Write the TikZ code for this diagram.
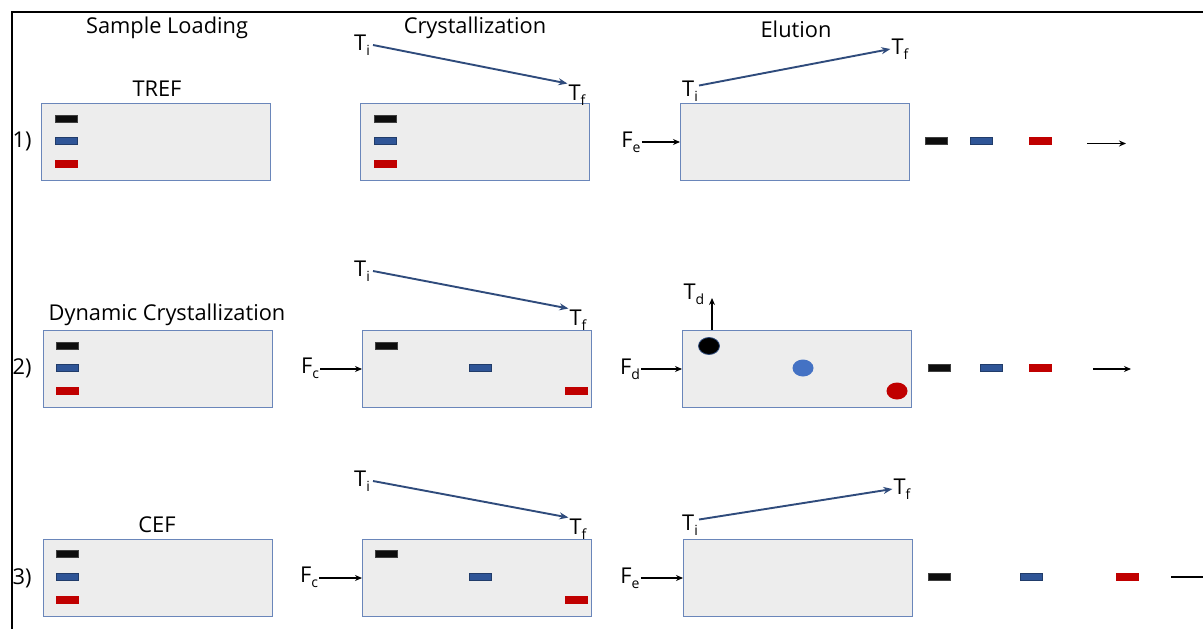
\documentclass[tikz,border=0pt]{standalone}
\usepackage{fontspec}
\setmainfont{Open Sans}
\usetikzlibrary{arrows.meta,shapes.geometric}
\definecolor{boxfill}{HTML}{EDEDED}
\definecolor{boxline}{HTML}{6A86BA}
\definecolor{barblack}{HTML}{0D0D0D}
\definecolor{barblue}{HTML}{2F5597}
\definecolor{barred}{HTML}{C00000}
\definecolor{templine}{HTML}{2F4B7C}
\definecolor{dotblue}{HTML}{4472C4}
\newcommand\lowsub[1]{\raisebox{-5pt}{\fontsize{14}{14}\selectfont #1}}
\tikzset{
  lbl/.style={font=\fontsize{21.8}{26}\selectfont, inner sep=1pt, text=black},
  colbox/.style={draw=boxline, fill=boxfill, line width=1pt, minimum width=229pt,
    minimum height=77pt, anchor=north west, inner sep=0pt},
  bar/.style={minimum width=22pt, minimum height=7pt, inner sep=0pt, line width=0.6pt},
  blackbar/.style={bar, fill=barblack, draw=black!75},
  bluebar/.style={bar, fill=barblue, draw=barblue!70!black},
  redbar/.style={bar, fill=barred, draw=barred},
  temp/.style={draw=templine, line width=1.9pt, -{Stealth[length=9pt,width=7pt]}},
  flow/.style={draw=black, line width=1.3pt, -{Stealth[length=7pt,width=6pt]}},
  blob/.style={ellipse, inner sep=0pt, minimum width=21pt, minimum height=17pt},
}
\begin{document}
\begin{tikzpicture}[x=1pt, y=-1pt]
\useasboundingbox (0,0) rectangle (1203,629);
\clip (0,0) rectangle (1203,629);
\fill[white] (0,0) rectangle (1203,629);
% outer frame (runs past the page on the right and bottom)
\draw[line width=1.6pt] (12,660) -- (12,12) -- (1230,12);

% column headings
\node[lbl] (hload) at (167,28) {Sample Loading};
\node[lbl] (hcryst) at (475,28) {Crystallization};
\node[lbl] (helut) at (796,29) {Elution};

% row headings
\node[lbl] (nTREF) at (157,89) {TREF};
\node[lbl] (nDC) at (167,315) {Dynamic Crystallization};
\node[lbl] (nCEF) at (157,525) {CEF};
\node[lbl] (r1) at (22,141) {1)};
\node[lbl] (r2) at (22,368) {2)};
\node[lbl] (r3) at (22,578) {3)};

% ---------------- row 1: TREF ----------------
\node[colbox] (b11) at (41,103) {};
\node[colbox] (b12) at (360,103) {};
\node[colbox] (b13) at (680,103) {};
\node[blackbar] (k11) at (66,118.5) {};
\node[bluebar]  (u11) at (66,140.5) {};
\node[redbar]   (d11) at (66,163.5) {};
\node[blackbar] (k12) at (385,118.5) {};
\node[bluebar]  (u12) at (385,140.5) {};
\node[redbar]   (d12) at (385,163.5) {};

\node[lbl] (ti12) at (362,45) {T\lowsub{i}};
\node[lbl] (tf12) at (577,95) {T\lowsub{f}};
\draw[temp] ([xshift=2pt]ti12.east) -- (tf12.north west);
\node[lbl] (fe13) at (631,142) {F\lowsub{e}};
\draw[flow] (fe13.east |- b13.west) -- (b13.west);
\node[lbl] (ti13) at (690,91) {T\lowsub{i}};
\node[lbl] (tf13) at (900,49) {T\lowsub{f}};
\draw[temp] ([yshift=-6pt]ti13.north east) -- (tf13.west);

\node[blackbar] (k14) at (936.5,140.5) {};
\node[bluebar]  (u14) at (981,140.5) {};
\node[redbar]   (d14) at (1040,140.5) {};
\coordinate (o1s) at (1087,143.5);
\coordinate (o1e) at (1126,143.5);
\draw[flow] (o1s) -- (o1e);

% ---------------- row 2: dynamic crystallization ----------------
\node[colbox] (b21) at (43,330) {};
\node[colbox] (b22) at (362,330) {};
\node[colbox] (b23) at (682,330) {};
\node[blackbar] (k21) at (67.5,345.5) {};
\node[bluebar]  (u21) at (67.5,367.5) {};
\node[redbar]   (d21) at (67.5,390.5) {};
\node[blackbar] (k22) at (386.5,345.5) {};
\node[bluebar]  (u22) at (480,367.5) {};
\node[redbar]   (d22) at (576,390.5) {};

\node[lbl] (fc22) at (310,368) {F\lowsub{c}};
\draw[flow] (fc22.east |- b22.west) -- (b22.west);
\node[lbl] (ti22) at (362,271) {T\lowsub{i}};
\node[lbl] (tf22) at (578,320) {T\lowsub{f}};
\draw[temp] ([xshift=2pt]ti22.east) -- (tf22.north west);

\node[lbl] (fd23) at (630,369) {F\lowsub{d}};
\draw[flow] (fd23.east |- b23.west) -- (b23.west);
\node[lbl] (td23) at (694,294) {T\lowsub{d}};
\coordinate (tdtip) at (712,298);
\draw[flow] (b23.north -| tdtip) -- (tdtip);
\node[blob, fill=black, draw=templine, line width=0.8pt] (c1) at (709,346) {};
\node[blob, fill=dotblue] (c2) at (803,368) {};
\node[blob, fill=barred] (c3) at (897,391) {};

\node[blackbar] (k24) at (939.5,367.5) {};
\node[bluebar]  (u24) at (991.5,367.5) {};
\node[redbar]   (d24) at (1040.5,367.5) {};
\coordinate (o2s) at (1093,369);
\coordinate (o2e) at (1131,369);
\draw[flow] (o2s) -- (o2e);

% ---------------- row 3: CEF ----------------
\node[colbox] (b31) at (43,539) {};
\node[colbox] (b32) at (362,539) {};
\node[colbox] (b33) at (683,539) {};
\node[blackbar] (k31) at (67.5,554) {};
\node[bluebar]  (u31) at (67.5,577) {};
\node[redbar]   (d31) at (67.5,599.5) {};
\node[blackbar] (k32) at (386.5,553.5) {};
\node[bluebar]  (u32) at (480,576.5) {};
\node[redbar]   (d32) at (576,599.5) {};

\node[lbl] (fc32) at (309,577) {F\lowsub{c}};
\draw[flow] (fc32.east |- b32.west) -- (b32.west);
\node[lbl] (ti32) at (362,481) {T\lowsub{i}};
\node[lbl] (tf32) at (578,529) {T\lowsub{f}};
\draw[temp] ([xshift=2pt]ti32.east) -- (tf32.north west);

\node[lbl] (fe33) at (630,578) {F\lowsub{e}};
\draw[flow] (fe33.east |- b33.west) -- (b33.west);
\node[lbl] (ti33) at (690,525) {T\lowsub{i}};
\node[lbl] (tf33) at (902,489) {T\lowsub{f}};
\draw[temp] ([yshift=-6pt]ti33.north east) -- (tf33.west);

\node[blackbar] (k34) at (939,577) {};
\node[bluebar]  (u34) at (1031,577) {};
\node[redbar]   (d34) at (1127,577) {};
\coordinate (o3s) at (1171,577);
\coordinate (o3e) at (1215,577);
\draw[flow] (o3s) -- (o3e);
\end{tikzpicture}
\end{document}
